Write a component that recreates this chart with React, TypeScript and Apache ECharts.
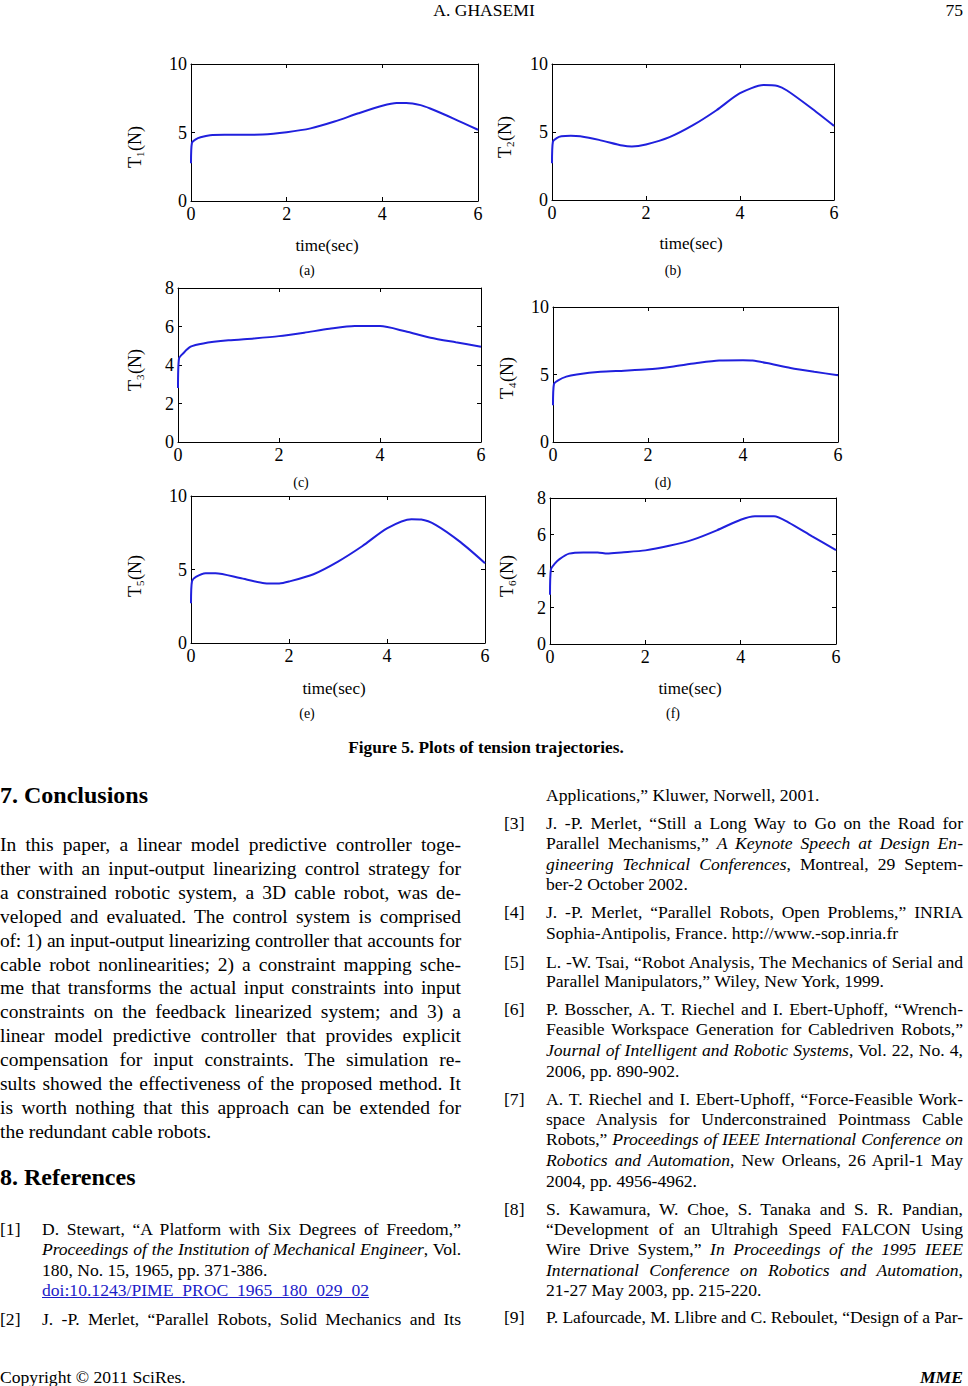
import React, { useEffect, useLayoutEffect, useRef } from "react";
import * as echarts from "echarts";

const FONT = '"Liberation Serif", "Times New Roman", Times, serif';

// ---- data (time in s, tension in N) ----
const t1x = [0, 0.02, 0.1, 0.2, 0.4, 0.7, 1.0, 1.5, 2.0, 2.5, 3.0, 3.5, 4.0, 4.3, 4.5, 4.8, 5.0, 5.5, 6.0];
const t1y = [2.75, 4.25, 4.5, 4.65, 4.8, 4.83, 4.83, 4.85, 5.02, 5.3, 5.8, 6.4, 6.95, 7.15, 7.15, 7.0, 6.75, 6.0, 5.2];

const t2x = [0, 0.02, 0.1, 0.2, 0.4, 0.6, 1.0, 1.5, 1.7, 2.0, 2.5, 3.0, 3.5, 4.0, 4.5, 4.8, 5.0, 5.5, 6.0];
const t2y = [2.7, 4.3, 4.55, 4.68, 4.72, 4.68, 4.42, 4.0, 3.93, 4.08, 4.62, 5.5, 6.6, 7.85, 8.45, 8.38, 8.05, 6.8, 5.45];

const t3x = [0, 0.02, 0.1, 0.25, 0.5, 1.0, 1.5, 2.0, 2.5, 3.0, 3.5, 4.0, 4.5, 5.0, 5.5, 6.0];
const t3y = [2.8, 4.34, 4.6, 4.95, 5.12, 5.28, 5.38, 5.5, 5.68, 5.88, 6.02, 6.02, 5.75, 5.42, 5.18, 4.95];

const t4x = [0, 0.02, 0.1, 0.28, 0.5, 1.0, 1.5, 2.0, 2.5, 3.0, 3.5, 4.0, 4.2, 4.5, 5.0, 5.5, 6.0];
const t4y = [2.73, 4.3, 4.55, 4.84, 5.0, 5.2, 5.28, 5.38, 5.58, 5.83, 6.03, 6.05, 6.03, 5.85, 5.48, 5.2, 4.95];

const t5x = [0, 0.02, 0.1, 0.3, 0.5, 1.0, 1.5, 1.8, 2.0, 2.5, 3.0, 3.5, 4.0, 4.5, 4.7, 5.0, 5.5, 6.0];
const t5y = [2.7, 4.2, 4.5, 4.75, 4.75, 4.42, 4.07, 4.05, 4.18, 4.68, 5.54, 6.6, 7.8, 8.42, 8.4, 8.02, 6.86, 5.43];

const t6x = [0, 0.02, 0.1, 0.2, 0.4, 0.7, 1.0, 1.2, 1.5, 2.0, 2.5, 3.0, 3.5, 4.0, 4.3, 4.7, 5.0, 5.5, 6.0];
const t6y = [2.7, 4.1, 4.4, 4.65, 4.95, 5.02, 5.02, 4.96, 5.02, 5.13, 5.38, 5.72, 6.23, 6.81, 7.0, 7.0, 6.67, 5.9, 5.15];

const xMax = 6;
const xInterval = 2;
const yMaxes = [10, 10, 8, 10, 10, 8];
const yIntervals = [5, 5, 2, 5, 5, 2];
const subscripts = ["1", "2", "3", "4", "5", "6"];
const panelTags = ["(a)", "(b)", "(c)", "(d)", "(e)", "(f)"];
const xAxisTitle = "time(sec)";

// ---- layout ----
const grids = [
  { left: 191, top: 64, width: 287, height: 137 },
  { left: 552, top: 64, width: 282, height: 136 },
  { left: 178, top: 288, width: 303, height: 154 },
  { left: 553, top: 307, width: 285, height: 135 },
  { left: 191, top: 496, width: 294, height: 147 },
  { left: 550, top: 498, width: 286, height: 146 },
];
const yLabelPos = [[135, 147], [505, 137], [135, 370], [507, 378], [135, 576], [507, 576]];
const xTitlePos: (number[] | null)[] = [[327, 245], [691, 243], null, null, [334, 688], [690, 688]];
const tagPos = [[307, 270], [673, 270], [301, 482], [663, 482], [307, 713], [673, 713]];

const LINE_COLOR = "#2020dd";

function buildOption() {
  const series = [[t1x, t1y], [t2x, t2y], [t3x, t3y], [t4x, t4y], [t5x, t5y], [t6x, t6y]];
  const xAxes: any[] = [];
  const yAxes: any[] = [];
  const ser: any[] = [];
  const graphic: any[] = [];
  const axisLine = { show: true, onZero: false, lineStyle: { color: "#000", width: 1 } };
  const tick = { show: true, inside: true, length: 4, lineStyle: { color: "#000", width: 1 } };
  grids.forEach((g, i) => {
    xAxes.push({
      type: "value", gridIndex: i, position: "bottom", min: 0, max: xMax, interval: xInterval,
      axisLine, axisTick: tick, splitLine: { show: false },
      axisLabel: { show: true, color: "#000", fontFamily: FONT, fontSize: 18, margin: 4, showMinLabel: true, showMaxLabel: true },
    });
    xAxes.push({
      type: "value", gridIndex: i, position: "top", min: 0, max: xMax, interval: xInterval,
      axisLine, axisTick: tick, splitLine: { show: false }, axisLabel: { show: false },
    });
    yAxes.push({
      type: "value", gridIndex: i, position: "left", min: 0, max: yMaxes[i], interval: yIntervals[i],
      axisLine, axisTick: tick, splitLine: { show: false },
      axisLabel: { show: true, color: "#000", fontFamily: FONT, fontSize: 18, margin: 4, showMinLabel: true, showMaxLabel: true },
    });
    yAxes.push({
      type: "value", gridIndex: i, position: "right", min: 0, max: yMaxes[i], interval: yIntervals[i],
      axisLine, axisTick: tick, splitLine: { show: false }, axisLabel: { show: false },
    });
    const [xs, ys] = series[i];
    ser.push({
      type: "line", xAxisIndex: i * 2, yAxisIndex: i * 2, symbol: "none", smooth: 0.25,
      lineStyle: { color: LINE_COLOR, width: 2 }, data: xs.map((x, k) => [x, ys[k]]),
    });
    const [lx, ly] = yLabelPos[i];
    graphic.push({
      type: "group", x: lx, y: ly, rotation: Math.PI / 2,
      children: [
        { type: "text", x: -21, y: 0, style: { text: "T", font: `18px ${FONT}`, fill: "#000", textAlign: "left", textVerticalAlign: "middle" } },
        { type: "text", x: -10, y: 5, style: { text: subscripts[i], font: `11px ${FONT}`, fill: "#000", textAlign: "left", textVerticalAlign: "middle" } },
        { type: "text", x: -4, y: 0, style: { text: "(N)", font: `18px ${FONT}`, fill: "#000", textAlign: "left", textVerticalAlign: "middle" } },
      ],
    });
    const xt = xTitlePos[i];
    if (xt) {
      graphic.push({ type: "text", x: xt[0], y: xt[1], style: { text: xAxisTitle, font: `17px ${FONT}`, fill: "#000", textAlign: "center", textVerticalAlign: "middle" } });
    }
    graphic.push({ type: "text", x: tagPos[i][0], y: tagPos[i][1], style: { text: panelTags[i], font: `14px ${FONT}`, fill: "#000", textAlign: "center", textVerticalAlign: "middle" } });
  });
  return {
    animation: false,
    backgroundColor: "#fff",
    grid: grids.map((g) => ({ ...g, containLabel: false })),
    xAxis: xAxes,
    yAxis: yAxes,
    series: ser,
    graphic,
  };
}

type LnProps = { x: number; y: number; w?: number; j?: boolean; fs?: number; lh?: number; style?: React.CSSProperties; children: React.ReactNode };
const Ln = ({ x, y, w, j, fs = 17.6, lh = 20.5, style, children }: LnProps) => (
  <div
    className="ln"
    data-lh={lh}
    style={{
      position: "absolute", left: x, top: y - lh / 2, width: w, fontSize: fs, lineHeight: `${lh}px`,
      textAlign: j ? "justify" : "left", textAlignLast: j ? "justify" : "auto", color: "#000",
      whiteSpace: w ? "normal" : "nowrap", ...style,
    } as React.CSSProperties}
  >
    {children}
  </div>
);

const BX = 0, BW = 461; // body left column
const LX = 42, LW = 419; // left references text
const RLab = 504, RX = 546, RW = 417; // right column
const BODY_FS = 19.5, BODY_LH = 24;

const bodyLines = [
  "In this paper, a linear model predictive controller toge-",
  "ther with an input-output linearizing control strategy for",
  "a constrained robotic system, a 3D cable robot, was de-",
  "veloped and evaluated. The control system is comprised",
  "of: 1) an input-output linearizing controller that accounts for",
  "cable robot nonlinearities; 2) a constraint mapping sche-",
  "me that transforms the actual input constraints into input",
  "constraints on the feedback linearized system; and 3) a",
  "linear model predictive controller that provides explicit",
  "compensation for input constraints. The simulation re-",
  "sults showed the effectiveness of the proposed method. It",
  "is worth nothing that this approach can be extended for",
  "the redundant cable robots.",
];

export default function App() {
  const chartRef = useRef<HTMLDivElement>(null);

  useEffect(() => {
    document.body.style.margin = "0";
    document.body.style.overflow = "hidden";
    const chart = echarts.init(chartRef.current!, null, { renderer: "svg" });
    chart.setOption(buildOption() as any);
    return () => chart.dispose();
  }, []);

  useLayoutEffect(() => {
    document.querySelectorAll<HTMLDivElement>(".ln").forEach((el) => {
      const lh = Number(el.dataset.lh);
      let ls = 0;
      let n = 0;
      while (el.offsetHeight > lh * 1.4 && n < 40) {
        ls -= 0.1;
        n++;
        el.style.letterSpacing = `${ls.toFixed(2)}px`;
      }
    });
  }, []);

  return (
    <div style={{ position: "absolute", left: 0, top: 0, width: 968, height: 1386, overflow: "hidden", background: "#fff", fontFamily: FONT }}>
      <div ref={chartRef} style={{ position: "absolute", left: 0, top: 0, width: 968, height: 730 }} />

      {/* header */}
      <Ln x={384} y={10} w={200} style={{ textAlign: "center", textAlignLast: "center" }}>A. GHASEMI</Ln>
      <Ln x={903} y={10} w={60} style={{ textAlign: "right", textAlignLast: "right" }}>75</Ln>

      {/* caption */}
      <Ln x={286} y={748} w={400} fs={17.3} style={{ textAlign: "center", textAlignLast: "center", fontWeight: "bold" }}>
        Figure 5. Plots of tension trajectories.
      </Ln>

      {/* left column */}
      <Ln x={BX} y={795} fs={24} lh={30} style={{ fontWeight: "bold" }}>7. Conclusions</Ln>
      {bodyLines.map((t, i) => (
        <Ln key={i} x={BX} y={845 + i * 23.9} w={BW} fs={BODY_FS} lh={BODY_LH} j={i < bodyLines.length - 1}>{t}</Ln>
      ))}
      <Ln x={BX} y={1177} fs={24} lh={30} style={{ fontWeight: "bold" }}>8. References</Ln>

      <Ln x={0} y={1229}>[1]</Ln>
      <Ln x={LX} y={1229} w={LW} j>D. Stewart, “A Platform with Six Degrees of Freedom,”</Ln>
      <Ln x={LX} y={1249} w={LW} j><i>Proceedings of the Institution of Mechanical Engineer</i>, Vol.</Ln>
      <Ln x={LX} y={1270}>180, No. 15, 1965, pp. 371-386.</Ln>
      <Ln x={LX} y={1290} style={{ color: "#1c1cc8", textDecoration: "underline" }}>doi:10.1243/PIME_PROC_1965_180_029_02</Ln>
      <Ln x={0} y={1319}>[2]</Ln>
      <Ln x={LX} y={1319} w={LW} j>J. -P. Merlet, “Parallel Robots, Solid Mechanics and Its</Ln>

      {/* right column */}
      <Ln x={RX} y={795}>Applications,” Kluwer, Norwell, 2001.</Ln>

      <Ln x={RLab} y={823}>[3]</Ln>
      <Ln x={RX} y={823} w={RW} j>J. -P. Merlet, “Still a Long Way to Go on the Road for</Ln>
      <Ln x={RX} y={843} w={RW} j>Parallel Mechanisms,” <i>A Keynote Speech at Design En-</i></Ln>
      <Ln x={RX} y={864} w={RW} j><i>gineering Technical Conferences</i>, Montreal, 29 Septem-</Ln>
      <Ln x={RX} y={884}>ber-2 October 2002.</Ln>

      <Ln x={RLab} y={912}>[4]</Ln>
      <Ln x={RX} y={912} w={RW} j>J. -P. Merlet, “Parallel Robots, Open Problems,” INRIA</Ln>
      <Ln x={RX} y={933}>Sophia-Antipolis, France. http://www.-sop.inria.fr</Ln>

      <Ln x={RLab} y={962}>[5]</Ln>
      <Ln x={RX} y={962} w={RW} j>L. -W. Tsai, “Robot Analysis, The Mechanics of Serial and</Ln>
      <Ln x={RX} y={981}>Parallel Manipulators,” Wiley, New York, 1999.</Ln>

      <Ln x={RLab} y={1009}>[6]</Ln>
      <Ln x={RX} y={1009} w={RW} j>P. Bosscher, A. T. Riechel and I. Ebert-Uphoff, “Wrench-</Ln>
      <Ln x={RX} y={1029} w={RW} j>Feasible Workspace Generation for Cabledriven Robots,”</Ln>
      <Ln x={RX} y={1050} w={RW} j><i>Journal of Intelligent and Robotic Systems</i>, Vol. 22, No. 4,</Ln>
      <Ln x={RX} y={1071}>2006, pp. 890-902.</Ln>

      <Ln x={RLab} y={1099}>[7]</Ln>
      <Ln x={RX} y={1099} w={RW} j>A. T. Riechel and I. Ebert-Uphoff, “Force-Feasible Work-</Ln>
      <Ln x={RX} y={1119} w={RW} j>space Analysis for Underconstrained Pointmass Cable</Ln>
      <Ln x={RX} y={1139} w={RW} j>Robots,” <i>Proceedings of IEEE International Conference on</i></Ln>
      <Ln x={RX} y={1160} w={RW} j><i>Robotics and Automation</i>, New Orleans, 26 April-1 May</Ln>
      <Ln x={RX} y={1181}>2004, pp. 4956-4962.</Ln>

      <Ln x={RLab} y={1209}>[8]</Ln>
      <Ln x={RX} y={1209} w={RW} j>S. Kawamura, W. Choe, S. Tanaka and S. R. Pandian,</Ln>
      <Ln x={RX} y={1229} w={RW} j>“Development of an Ultrahigh Speed FALCON Using</Ln>
      <Ln x={RX} y={1249} w={RW} j>Wire Drive System,” <i>In Proceedings of the 1995 IEEE</i></Ln>
      <Ln x={RX} y={1270} w={RW} j><i>International Conference on Robotics and Automation</i>,</Ln>
      <Ln x={RX} y={1290}>21-27 May 2003, pp. 215-220.</Ln>

      <Ln x={RLab} y={1317}>[9]</Ln>
      <Ln x={RX} y={1317} w={RW} j>P. Lafourcade, M. Llibre and C. Reboulet, “Design of a Par-</Ln>

      {/* footer */}
      <Ln x={0} y={1377}>Copyright © 2011 SciRes.</Ln>
      <Ln x={863} y={1377} w={100} style={{ textAlign: "right", textAlignLast: "right", fontWeight: "bold", fontStyle: "italic" }}>MME</Ln>
    </div>
  );
}
